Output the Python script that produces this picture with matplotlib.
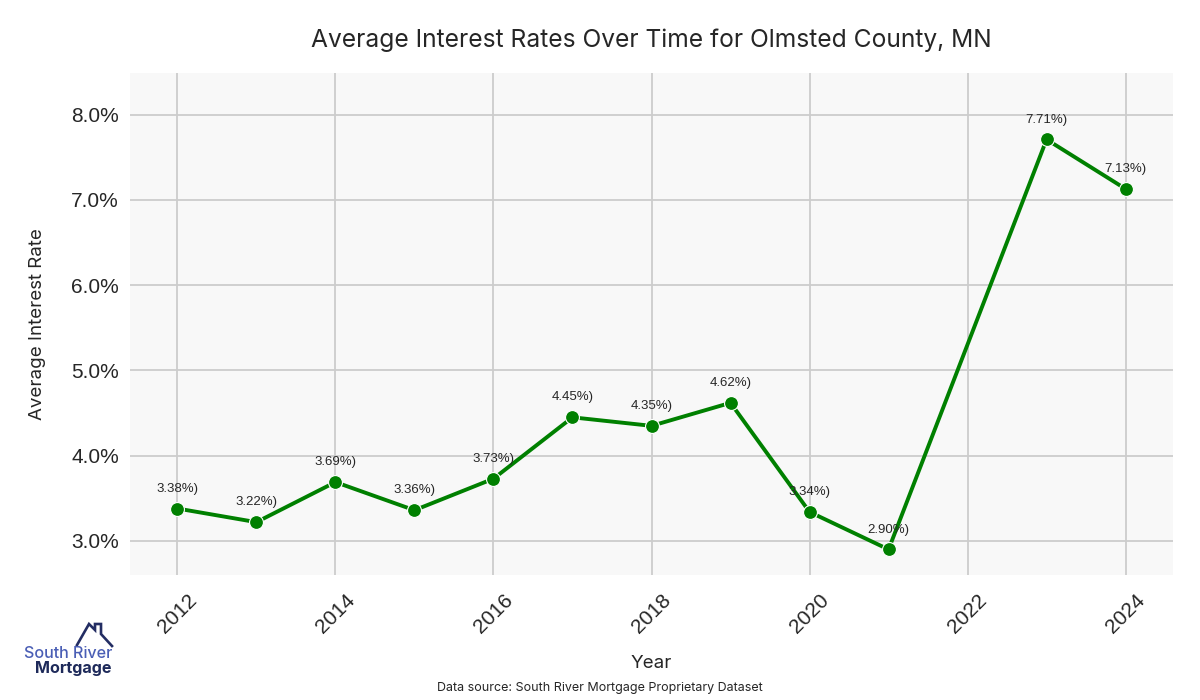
import matplotlib
matplotlib.use('Agg')
import matplotlib.pyplot as plt
from matplotlib.lines import Line2D
from matplotlib.ticker import FuncFormatter

# data
years = [2012, 2013, 2014, 2015, 2016, 2017, 2018, 2019, 2020, 2021, 2023, 2024]
rates = [3.38, 3.22, 3.69, 3.36, 3.73, 4.45, 4.35, 4.62, 3.34, 2.90, 7.71, 7.13]
x_ticks = [2012, 2014, 2016, 2018, 2020, 2022, 2024]
y_ticks = [3.0, 4.0, 5.0, 6.0, 7.0, 8.0]

title_font = ['Inter', 'DejaVu Sans']
tick_font = ['Liberation Sans', 'DejaVu Sans']

fig = plt.figure(figsize=(12, 7), dpi=100)
ax = fig.add_axes([130 / 1200, 1 - 575 / 700, (1173 - 130) / 1200, (575 - 73) / 700])
ax.set_facecolor('#f8f8f8')

ax.plot(years, rates, color='green', linewidth=2.8, marker='o', markersize=10,
        markeredgecolor='white', markeredgewidth=0.8, zorder=3)

for x, y in zip(years, rates):
    ax.annotate(f'{y:.2f}%)', (x, y), textcoords='offset points', xytext=(0, 10),
                ha='center', va='bottom', fontsize=9.5, color='#262626',
                family=tick_font, zorder=4)

ax.set_xlim(2011.4, 2024.6)
ax.set_ylim(2.6, 8.49)
ax.set_xticks(x_ticks)
ax.set_yticks(y_ticks)
ax.yaxis.set_major_formatter(FuncFormatter(lambda v, p: f'{v:.1f}%'))
ax.grid(True, color='#cccccc', linewidth=1.3)
ax.set_axisbelow(True)
for s in ax.spines.values():
    s.set_visible(False)
ax.tick_params(axis='both', length=0, labelsize=15, labelcolor='#262626')
ax.tick_params(axis='x', pad=11)
ax.tick_params(axis='y', pad=8)
for lab in ax.get_xticklabels():
    lab.set_rotation(45)
    lab.set_ha('center')
    lab.set_family(tick_font)
for lab in ax.get_yticklabels():
    lab.set_family(tick_font)

ax.set_title('Average Interest Rates Over Time for Olmsted County, MN', fontsize=17.7,
             family=title_font, color='#262626', pad=19)
ax.set_ylabel('Average Interest Rate', fontsize=13.5, family=title_font, color='#262626', labelpad=18)
ax.set_xlabel('Year', fontsize=13.5, family=title_font, color='#262626', labelpad=13)

fig.text(0.5, 1 - 688 / 700, 'Data source: South River Mortgage Proprietary Dataset',
         ha='center', va='center', fontsize=9, family=title_font, color='#262626')

# logo
hx = [77, 89, 95, 95, 101, 101, 112]
hy = [645, 624, 630, 624, 624, 634, 646]
fig.add_artist(Line2D([v / 1200 for v in hx], [1 - v / 700 for v in hy],
                      transform=fig.transFigure, color='#232d63', linewidth=1.9,
                      solid_joinstyle='miter'))
fig.text(112 / 1200, 1 - 654 / 700, 'South River', ha='right', va='center',
         fontsize=11.6, family=title_font, fontweight='medium', color='#4a5eb5')
fig.text(112 / 1200, 1 - 669 / 700, 'Mortgage', ha='right', va='center',
         fontsize=11.6, family=title_font, fontweight='bold', color='#1e2a5a')

fig.savefig('out.png', dpi=100)
